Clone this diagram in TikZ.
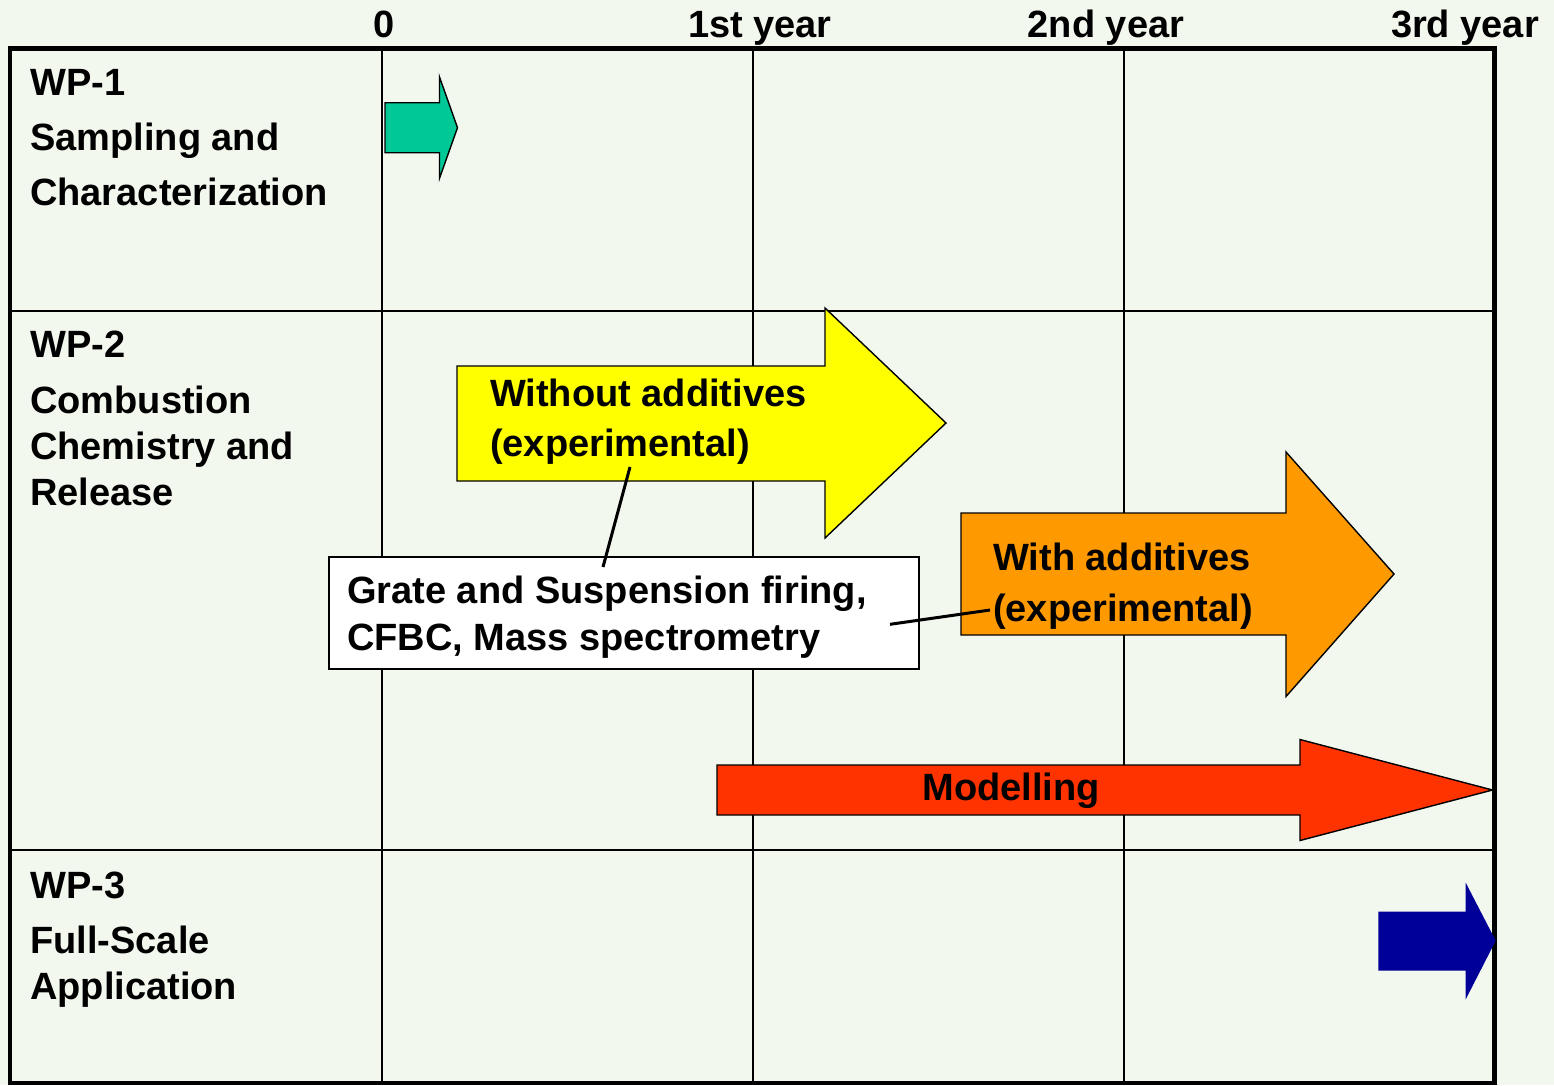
\documentclass[tikz,border=0pt]{standalone}
\usepackage{fontspec}
\setmainfont{Liberation Sans}
\definecolor{bgc}{HTML}{F3F8EF}
\definecolor{tealc}{HTML}{00C896}
\definecolor{yelc}{HTML}{FFFF00}
\definecolor{orac}{HTML}{FF9900}
\definecolor{redc}{HTML}{FF3300}
\definecolor{bluc}{HTML}{000099}
\begin{document}
\begin{tikzpicture}[x=1pt,y=-1pt,
  txt/.style={inner sep=0pt,font=\fontsize{38}{46}\bfseries\selectfont,align=left,text=black},
  grid/.style={draw=black,line width=2.2pt},
  frame/.style={draw=black,line width=4.5pt},
  arrowshape/.style={draw=black,line width=1.4pt,line join=miter},
  callout/.style={draw=black,line width=3pt}]
\fill[bgc] (0,0) rectangle (1554,1085);
\useasboundingbox (0,0) rectangle (1554,1085);
% grid
\draw[grid] (382,48) -- (382,1083);
\draw[grid] (753,48) -- (753,1083);
\draw[grid] (1124,48) -- (1124,1083);
\draw[grid] (10,311) -- (1494,311);
\draw[grid] (10,850) -- (1494,850);
\draw[frame] (10,1085) -- (10,48.5) -- (1494.5,48.5) -- (1494.5,1085);
\draw[frame] (10,1083) -- (1494.5,1083);
% header
\node[txt,anchor=base] (h0) at (384,37) {0};
\node[txt,anchor=base] (h1) at (760,37) {1st year};
\node[txt,anchor=base] (h2) at (1106,37) {2nd year};
\node[txt,anchor=base] (h3) at (1465,37) {3rd year};
% left labels (base anchor = baseline of last line)
\node[txt,anchor=base west] (wp1) at (30,205) {WP-1\\[9pt]Sampling and\\[9pt]Characterization};
\node[txt,anchor=base west] (wp2) at (30,505) {WP-2\\[10pt]Combustion\\Chemistry and\\Release};
\node[txt,anchor=base west] (wp3) at (30,999) {WP-3\\[9pt]Full-Scale\\Application};
% WP-1 arrow
\draw[arrowshape,fill=tealc] (385,102.7) -- (439.5,102.7) -- (439.5,77) -- (457.5,127.7) -- (439.5,178.3) -- (439.5,152.7) -- (385,152.7) -- cycle;
% yellow arrow
\draw[arrowshape,fill=yelc] (457,366) -- (825,366) -- (825,308) -- (946,423) -- (825,538) -- (825,481) -- (457,481) -- cycle;
\node[txt,anchor=base west] (ya) at (490,456) {Without additives\\[4pt](experimental)};
% orange arrow
\draw[arrowshape,fill=orac] (961,513) -- (1286,513) -- (1286,452) -- (1394,574) -- (1286,696.5) -- (1286,635) -- (961,635) -- cycle;
\node[txt,anchor=base west] (oa) at (993,621) {With additives\\[5pt](experimental)};
% red arrow
\draw[arrowshape,fill=redc] (717,765) -- (1300,765) -- (1300,739.5) -- (1492.5,790) -- (1300,840.5) -- (1300,815) -- (717,815) -- cycle;
\node[txt,anchor=base] (ma) at (1011,800) {Modelling};
% blue arrow
\fill[bluc] (1378.3,911.7) -- (1465.7,911.7) -- (1465.7,882.7) -- (1495.7,940.7) -- (1465.7,999.3) -- (1465.7,970.7) -- (1378.3,970.7) -- cycle;
% white box
\node[draw=black,line width=2pt,fill=white,minimum width=590pt,minimum height=112pt,inner sep=0pt,anchor=north west] (box) at (328,556) {};
\node[txt,anchor=base west] (bt) at (347,650) {Grate and Suspension firing,\\[1pt]CFBC, Mass spectrometry};
% callouts
\coordinate (c1a) at (630,467);
\coordinate (c1b) at (603,567);
\coordinate (c2a) at (890,624.3);
\coordinate (c2b) at (990,610);
\draw[callout] (c1a) -- (c1b);
\draw[callout] (c2a) -- (c2b);
\end{tikzpicture}
\end{document}
